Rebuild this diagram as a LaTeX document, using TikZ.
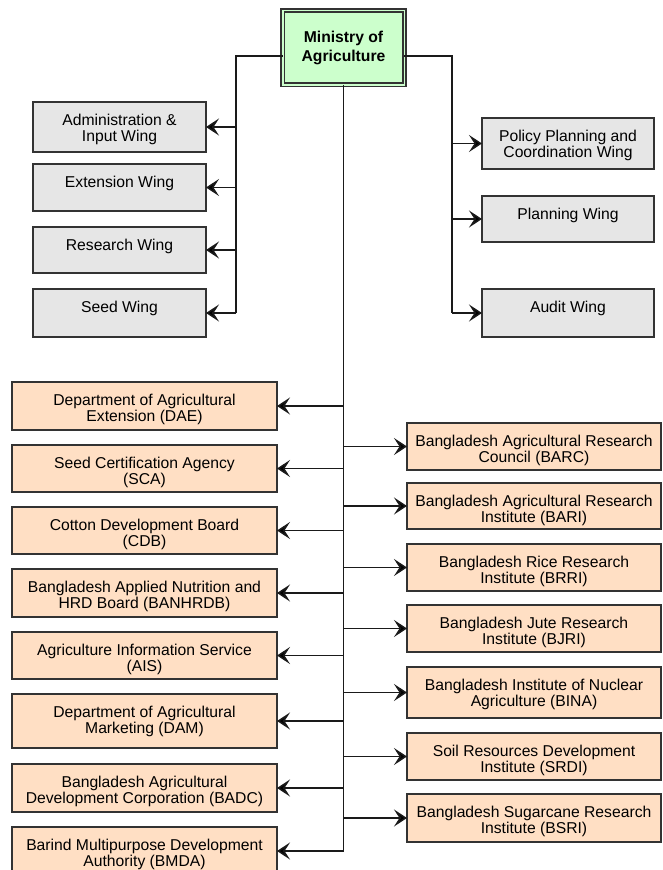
\documentclass[tikz,border=0pt]{standalone}
\usepackage{fontspec}
\setmainfont{Liberation Sans}
\usetikzlibrary{arrows.meta}
\definecolor{peach}{HTML}{FFDFC4}
\definecolor{grayfill}{HTML}{E6E6E6}
\definecolor{mint}{HTML}{CCFFCC}
\definecolor{edge}{HTML}{333333}
\definecolor{wirec}{HTML}{1A1A1A}
\newcommand{\boxtxt}[3]{\parbox[c][#2pt][t]{#1pt}{\centering\rule{0pt}{23pt}#3}}
\begin{document}
\begin{tikzpicture}[x=1pt,y=-1pt,
  boxbase/.style={draw=edge, line width=1.4pt, inner sep=0pt, outer sep=0pt,
    font=\fontsize{15.7}{16.5}\selectfont},
  gbox/.style={boxbase, fill=grayfill},
  obox/.style={boxbase, fill=peach},
  mainbox/.style={draw=edge, line width=1.6pt, double=mint, double distance=1.5pt,
    fill=mint, inner sep=0pt, outer sep=0pt, minimum width=121.5pt, minimum height=74.5pt,
    align=center, font=\bfseries\fontsize{15.7}{19}\selectfont},
  wire/.style={draw=wirec, line width=1.5pt},
  arr/.style={wire, -{Stealth[length=13pt,width=17pt,inset=5.5pt,fill=black]}}]
\clip (0,0) rectangle (662,870);
\fill[white] (0,0) rectangle (662,870);

% top
\node[mainbox] (min) at (343.5,47.5) {Ministry of\\Agriculture};

% left wings
\node[gbox] (adm)  at (119.5,127)   {\boxtxt{173}{50}{Administration \&\\Input Wing}};
\node[gbox] (ext)  at (119.5,187.5) {\boxtxt{173}{47}{Extension Wing}};
\node[gbox] (res)  at (119.5,250)   {\boxtxt{173}{46}{Research Wing}};
\node[gbox] (seed) at (119.5,313)   {\boxtxt{173}{48}{Seed Wing}};

% right wings
\node[gbox] (ppc)  at (568,143.5) {\boxtxt{172}{51}{Policy Planning and\\Coordination Wing}};
\node[gbox] (plan) at (568,219)   {\boxtxt{172}{46}{Planning Wing}};
\node[gbox] (aud)  at (568,313)   {\boxtxt{172}{48}{Audit Wing}};

% left agencies
\node[obox] (dae)  at (144.5,406)   {\boxtxt{265}{48}{Department of Agricultural\\Extension (DAE)}};
\node[obox] (sca)  at (144.5,468.5) {\boxtxt{265}{47}{Seed Certification Agency\\(SCA)}};
\node[obox] (cdb)  at (144.5,530.5) {\boxtxt{265}{47}{Cotton Development Board\\(CDB)}};
\node[obox] (ban)  at (144.5,593)   {\boxtxt{265}{48}{Bangladesh Applied Nutrition and\\HRD Board (BANHRDB)}};
\node[obox] (ais)  at (144.5,655.5) {\boxtxt{265}{47}{Agriculture Information Service\\(AIS)}};
\node[obox] (dam)  at (144.5,721)   {\boxtxt{265}{54}{Department of Agricultural\\Marketing (DAM)}};
\node[obox] (badc) at (144.5,788)   {\boxtxt{265}{48}{Bangladesh Agricultural\\Development Corporation (BADC)}};
\node[obox] (bmda) at (144.5,851)   {\boxtxt{265}{48}{Barind Multipurpose Development\\Authority (BMDA)}};

% right agencies
\node[obox] (barc) at (534,446.5) {\boxtxt{254}{47}{Bangladesh Agricultural Research\\Council (BARC)}};
\node[obox] (bari) at (534,506)   {\boxtxt{254}{46}{Bangladesh Agricultural Research\\Institute (BARI)}};
\node[obox] (brri) at (534,567.5) {\boxtxt{254}{47}{Bangladesh Rice Research\\Institute (BRRI)}};
\node[obox] (bjri) at (534,628.5) {\boxtxt{254}{47}{Bangladesh Jute Research\\Institute (BJRI)}};
\node[obox] (bina) at (534,692.5) {\boxtxt{254}{51}{Bangladesh Institute of Nuclear\\Agriculture (BINA)}};
\node[obox] (srdi) at (534,756.5) {\boxtxt{254}{47}{Soil Resources Development\\Institute (SRDI)}};
\node[obox] (bsri) at (534,818)   {\boxtxt{254}{48}{Bangladesh Sugarcane Research\\Institute (BSRI)}};

% connectors
\coordinate (jl) at (236,56);
\coordinate (jr) at (452,56);
\draw[wire] (min.west |- jl) -- (jl) -- (jl |- seed.east);
\foreach \n in {adm,ext,res,seed} \draw[arr] (jl |- \n.east) -- (\n.east);
\draw[wire] (min.east |- jr) -- (jr) -- (jr |- aud.west);
\foreach \n in {ppc,plan,aud} \draw[arr] (jr |- \n.west) -- (\n.west);
\draw[wire] (min.south) -- (min.south |- bmda.east);
\foreach \n in {dae,sca,cdb,ban,ais,dam,badc,bmda} \draw[arr] (min.south |- \n.east) -- (\n.east);
\foreach \n in {barc,bari,brri,bjri,bina,srdi,bsri} \draw[arr] (min.south |- \n.west) -- (\n.west);
\end{tikzpicture}
\end{document}
